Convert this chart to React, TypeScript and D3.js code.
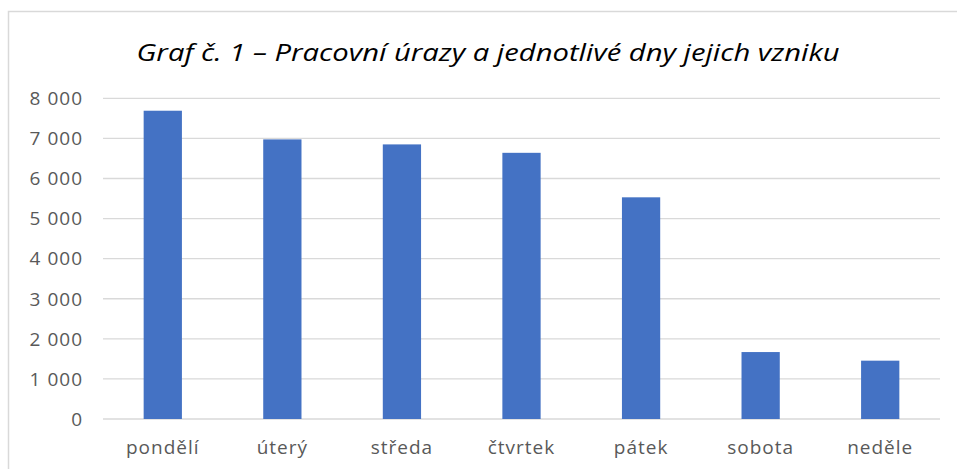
import React from "react";
import * as d3 from "d3";

const categories = ["pondělí", "úterý", "středa", "čtvrtek", "pátek", "sobota", "neděle"];
const values = [7690, 6975, 6850, 6640, 5530, 1670, 1455];
const yTicks = [0, 1000, 2000, 3000, 4000, 5000, 6000, 7000, 8000];
const title = "Graf č. 1 – Pracovní úrazy a jednotlivé dny jejich vzniku";

export default function App() {
  const W = 957, H = 469;
  const left = 103, right = 940, top = 98.3, bottom = 419;
  const x = d3.scaleBand<string>().domain(categories).range([left, right]).paddingInner(0.68).paddingOuter(0.34);
  const y = d3.scaleLinear().domain([0, 8000]).range([bottom, top]);
  const fmt = (v: number) => d3.format(",")(v).replace(/,/g, " ");
  const font = "'Open Sans', 'Noto Sans', sans-serif";
  return (
    <svg width={W} height={H} style={{ position: "absolute", left: 0, top: 0 }}>
      <rect x={0} y={0} width={W} height={H} fill="white" />
      <rect x={8.5} y={11.5} width={W + 10} height={H + 10} fill="white" stroke="#D9D9D9" strokeWidth={1.5} />
      <text x={488} y={61} textAnchor="middle" fontFamily={font} fontStyle="italic" fontSize={24} fill="#000" textLength={703} lengthAdjust="spacingAndGlyphs">{title}</text>
      {yTicks.map((t) => (
        <g key={t}>
          <line x1={left} x2={right} y1={y(t)} y2={y(t)} stroke="#D9D9D9" strokeWidth={t === 0 ? 1.5 : 1.3} />
          <text x={83} y={y(t)} dy="0.36em" textAnchor="end" fontFamily={font} fontSize={19} letterSpacing={1} fill="#595959">{fmt(t)}</text>
        </g>
      ))}
      {categories.map((c, i) => (
        <g key={c}>
          <rect x={x(c)} y={y(values[i])} width={x.bandwidth()} height={y(0) - y(values[i])} fill="#4472C4" />
          <text x={(x(c) as number) + x.bandwidth() / 2} y={454} textAnchor="middle" fontFamily={font} fontSize={19} letterSpacing={1} fill="#595959">{c}</text>
        </g>
      ))}
    </svg>
  );
}
